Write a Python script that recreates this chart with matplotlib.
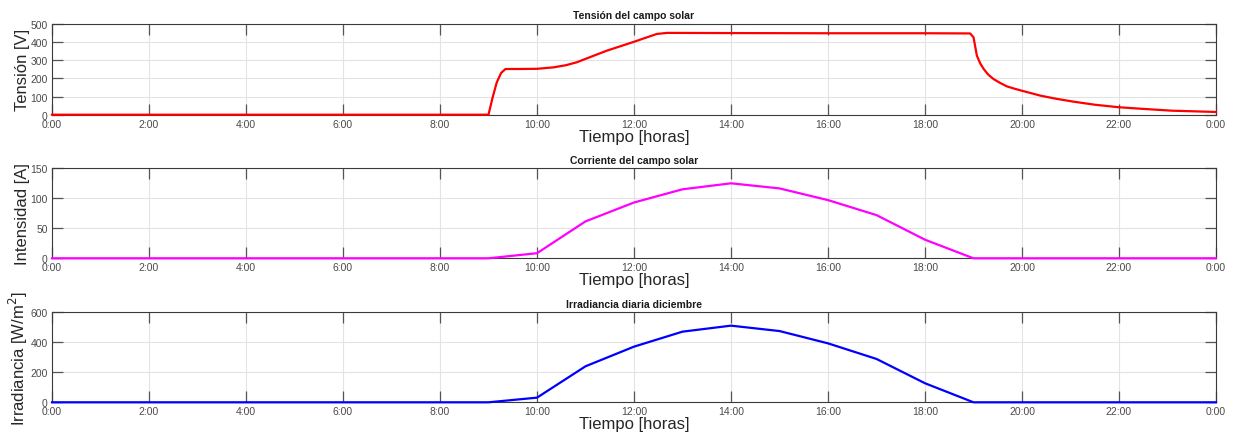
import matplotlib
matplotlib.use("Agg")
import matplotlib.pyplot as plt

plt.rcParams['font.family'] = ['Liberation Sans', 'DejaVu Sans']

# Solar field voltage [V] over the day (hours, volts)
volt_hours = [0.0, 9.0, 9.08, 9.17, 9.26, 9.35, 9.6, 10.0, 10.34, 10.6, 10.82, 11.1, 11.44,
              11.75, 12.0, 12.25, 12.47, 12.68, 14.0, 16.0, 18.0, 18.93, 19.0,
              19.07, 19.14, 19.21, 19.3, 19.41, 19.55, 19.69, 19.85, 20.0, 20.38, 20.7,
              21.06, 21.5, 22.0, 22.5, 23.1, 23.5, 24.0]
volt_values = [0, 0, 90, 178, 230, 252, 252, 253, 261, 273, 289, 318, 353,
               380, 402, 425, 445, 451, 450, 449, 449, 448, 427,
               325, 282, 252, 222, 197, 175, 156, 143, 132, 105, 88,
               72, 55, 41, 32, 22, 19, 15]

# Solar field current [A], hourly
curr_hours = [0, 1, 2, 3, 4, 5, 6, 7, 8, 9, 10, 11, 12, 13, 14, 15, 16, 17, 18, 19,
              20, 21, 22, 23, 24]
curr_values = [0, 0, 0, 0, 0, 0, 0, 0, 0, 0, 8.5, 61.5, 93, 115, 125, 116.5, 97, 72, 31, 0,
               0, 0, 0, 0, 0]

# December daily irradiance [W/m^2], hourly
irr_hours = curr_hours
irr_values = [0, 0, 0, 0, 0, 0, 0, 0, 0, 0, 31, 240, 371, 471, 511, 475, 393, 289, 127, 0,
              0, 0, 0, 0, 0]

tick_hours = list(range(0, 25, 2))
tick_labels = ['0:00', '2:00', '4:00', '6:00', '8:00', '10:00', '12:00', '14:00',
               '16:00', '18:00', '20:00', '22:00', '0:00']

W, H = 1234, 439
fig = plt.figure(figsize=(W / 100, H / 100), dpi=100)

axis_gray = '#3a3a3a'
label_gray = '#4a4a4a'


def make_axes(top_px, bottom_px):
    left_px, right_px = 52, 1216
    return fig.add_axes([left_px / W, (H - bottom_px) / H,
                         (right_px - left_px) / W, (bottom_px - top_px) / H])


panels = [
    (25, 115.7, volt_hours, volt_values, '#ff0000', 'Tensión del campo solar',
     'Tensión [V]', (0, 500), [0, 100, 200, 300, 400, 500]),
    (169.3, 259.3, curr_hours, curr_values, '#ff00ff', 'Corriente del campo solar',
     'Intensidad [A]', (0, 150), [0, 50, 100, 150]),
    (313.3, 403.3, irr_hours, irr_values, '#0000ff', 'Irradiancia diaria diciembre',
     'Irradiancia [W/m$^2$]', (0, 600), [0, 200, 400, 600]),
]

for top, bottom, xs, ys, color, title, ylabel, ylim, yticks in panels:
    ax = make_axes(top, bottom)
    ax.plot(xs, ys, color=color, linewidth=1.6, zorder=4, clip_on=False)
    ax.set_xlim(0, 24)
    ax.set_ylim(*ylim)
    ax.set_xticks(tick_hours)
    ax.set_xticklabels(tick_labels)
    ax.set_yticks(yticks)
    ax.grid(True, color='#e3e3e3', linewidth=0.8, zorder=0)
    ax.set_axisbelow(True)
    for sp in ax.spines.values():
        sp.set_color(axis_gray)
        sp.set_linewidth(0.8)
        sp.set_zorder(3)
    ax.tick_params(direction='in', length=8, width=0.9, color='#555555',
                   top=True, right=True, labelsize=7.5, labelcolor=label_gray, pad=3)
    ax.set_title(title, fontsize=7.5, fontweight='bold', color='#1a1a1a', pad=4)
    ax.set_xlabel('Tiempo [horas]', fontsize=12, color='#262626', labelpad=0)
    ax.set_ylabel(ylabel, fontsize=12, color='#262626', labelpad=0)

fig.savefig('out.png', dpi=100, facecolor='white')
